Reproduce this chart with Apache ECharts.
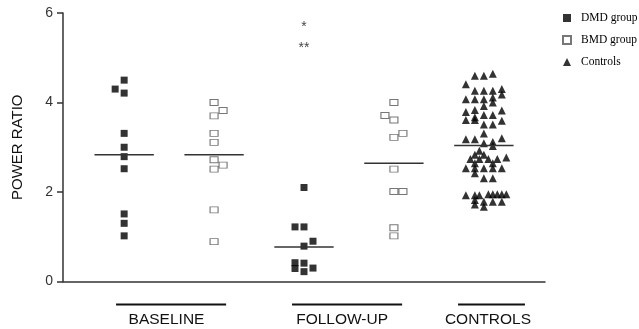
<!DOCTYPE html>
<html><head><meta charset="utf-8">
<script src="https://cdn.jsdelivr.net/npm/echarts@6/dist/echarts.min.js"></script>
<style>html,body{margin:0;padding:0;background:#fff}#c{width:639px;height:329px}</style>
</head><body><div id="c"></div>
<script>
// Column positions (DMD baseline, BMD baseline, DMD follow-up, BMD follow-up, Controls)
const columnPositions = [1, 2, 3, 4, 5];

const dmdBaselineValues = [4.50, 4.30, 4.21, 3.31, 3.00, 2.79, 2.52, 1.51, 1.30, 1.02];
const dmdBaselineJitter = [0, -0.1, 0, 0, 0, 0, 0, 0, 0, 0];

const bmdBaselineValues = [4.00, 3.82, 3.70, 3.31, 3.11, 2.72, 2.60, 2.51, 1.60, 0.89];
const bmdBaselineJitter = [0, 0.1, 0, 0, 0, 0, 0.1, 0, 0, 0];

const dmdFollowupValues = [2.10, 1.22, 1.22, 0.90, 0.79, 0.42, 0.29, 0.41, 0.22, 0.30];
const dmdFollowupJitter = [0, -0.1, 0, 0.1, 0, -0.1, -0.1, 0, 0, 0.1];

const bmdFollowupValues = [4.00, 3.71, 3.61, 3.31, 3.22, 2.51, 2.01, 2.01, 1.20, 1.02];
const bmdFollowupJitter = [0, -0.1, 0, 0.1, 0, 0, 0, 0.1, 0, 0];

const controlsValues = [
  4.64, 4.60, 4.60, 4.41, 4.26, 4.26, 4.26, 4.30, 4.18,
  4.07, 4.07, 4.07, 4.11, 4.00, 3.92, 3.79, 3.83, 3.72, 3.72, 3.82,
  3.61, 3.61, 3.67, 3.51, 3.51, 3.59, 3.18, 3.18, 3.31, 3.20, 3.12, 3.03, 3.09,
  2.92, 2.83, 2.83, 2.74, 2.74, 2.74, 2.74, 2.77, 2.64, 2.64,
  2.53, 2.53, 2.53, 2.53, 2.53, 2.42, 2.31, 2.31,
  1.93, 1.93, 1.93, 1.95, 1.95, 1.95, 1.95, 1.95, 1.82, 1.72, 1.78, 1.78, 1.78, 1.67
];
const controlsJitter = [
  0.1, -0.1, 0, -0.2, -0.1, 0, 0.1, 0.2, 0.2,
  -0.2, -0.1, 0, 0.1, 0.1, 0, -0.2, -0.1, 0, 0.1, 0.2,
  -0.2, -0.1, -0.1, 0, 0.1, 0.2, -0.2, -0.1, 0, 0.2, 0.1, 0.1, 0,
  -0.05, -0.1, 0, -0.15, -0.05, 0.05, 0.15, 0.25, -0.1, 0.1,
  -0.2, -0.1, 0, 0.1, 0.2, -0.1, 0, 0.1,
  -0.2, -0.1, -0.05, 0.05, 0.1, 0.15, 0.2, 0.25, -0.1, -0.1, 0, 0.1, 0.2, 0
];

// Mean lines per column
const meanValues = [2.83, 2.83, 0.77, 2.64, 3.04];

// Significance annotations above DMD follow-up
const starLabels = ['*', '**'];
const starValues = [5.69, 5.21];

// Group labels below the x axis
const groupLabels = ['BASELINE', 'FOLLOW-UP', 'CONTROLS'];
const groupLineCenters = [1.522, 3.479, 5.085];
const groupHalfSpans = [0.612, 0.612, 0.372];
const groupTextCenters = [1.471, 3.424, 5.046];

const yTicks = [0, 2, 4, 6];

function pts(col, vals, jit) {
  return vals.map((v, i) => [columnPositions[col] + jit[i], v]);
}

const chart = echarts.init(document.getElementById('c'), null, {renderer: 'canvas'});

const dmdStyle = {symbol: 'rect', symbolSize: 7, itemStyle: {color: '#000'}};
const bmdStyle = {symbol: 'rect', symbolSize: [8, 6], itemStyle: {color: '#fff', borderColor: '#555', borderWidth: 1}};

chart.setOption({
  animation: false,
  backgroundColor: '#fff',
  grid: {left: 63, right: 94, top: 13, bottom: 47.5, containLabel: false, outerBoundsMode: 'none'},
  legend: {
    orient: 'vertical', left: 557, top: 7, itemGap: 10,
    itemWidth: 8, itemHeight: 8,
    data: ['DMD group', 'BMD group', 'Controls'],
    textStyle: {fontFamily: 'Liberation Serif', fontSize: 11.5, color: '#000', padding: [0, 0, 0, 5]}
  },
  xAxis: {
    type: 'value', min: 0.32, max: 5.68,
    axisLine: {show: true, onZero: false, lineStyle: {color: '#333', width: 1.5}},
    axisTick: {show: false}, axisLabel: {show: false}, splitLine: {show: false}
  },
  yAxis: {
    type: 'value', min: yTicks[0], max: yTicks[yTicks.length - 1], interval: 2,
    name: 'POWER RATIO', nameLocation: 'middle', nameGap: 38,
    nameTextStyle: {fontFamily: 'Liberation Sans', fontSize: 15, color: '#111'},
    axisLine: {show: true, lineStyle: {color: '#333', width: 1.5}},
    axisTick: {show: true, length: 6, lineStyle: {color: '#333', width: 1.5}},
    axisLabel: {fontFamily: 'Liberation Sans', fontSize: 14, color: '#333', margin: 10},
    splitLine: {show: false}
  },
  series: [
    Object.assign({type: 'scatter', name: 'DMD group', data: pts(0, dmdBaselineValues, dmdBaselineJitter).concat(pts(2, dmdFollowupValues, dmdFollowupJitter)), z: 3}, dmdStyle),
    Object.assign({type: 'scatter', name: 'BMD group', data: pts(1, bmdBaselineValues, bmdBaselineJitter).concat(pts(3, bmdFollowupValues, bmdFollowupJitter)), z: 3}, bmdStyle),
    {type: 'scatter', name: 'Controls', symbol: 'triangle', symbolSize: 8, itemStyle: {color: '#000'},
     data: pts(4, controlsValues, controlsJitter), z: 3},
    {type: 'custom', name: 'means', z: 4, silent: true,
     data: meanValues.map((m, i) => [columnPositions[i], m]),
     renderItem: function (params, api) {
       const a = api.coord([api.value(0) - 0.33, api.value(1)]);
       const b = api.coord([api.value(0) + 0.33, api.value(1)]);
       return {type: 'line', shape: {x1: a[0], y1: a[1], x2: b[0], y2: b[1]}, style: {stroke: '#333', lineWidth: 1.5}};
     }},
    {type: 'scatter', name: 'stars', symbolSize: 1, itemStyle: {color: 'rgba(0,0,0,0)'}, silent: true,
     data: starValues.map((v, i) => ({value: [columnPositions[2], v], label: {formatter: starLabels[i]}})),
     label: {show: true, position: 'inside', fontFamily: 'Liberation Sans', fontSize: 14, color: '#111'}},
    {type: 'custom', name: 'groups', silent: true, clip: false,
     data: groupLineCenters.map((c, i) => [c, groupHalfSpans[i], groupTextCenters[i], i]),
     renderItem: function (params, api) {
       const c = api.value(0), h = api.value(1), tc = api.value(2), idx = api.value(3);
       const l = api.coord([c - h, 0]);
       const r = api.coord([c + h, 0]);
       const m = api.coord([tc, 0]);
       return {type: 'group', children: [
         {type: 'line', shape: {x1: l[0], y1: l[1] + 23, x2: r[0], y2: r[1] + 23}, style: {stroke: '#111', lineWidth: 2}},
         {type: 'text', x: m[0], y: m[1] + 38, style: {text: groupLabels[idx], fill: '#111', font: '15.5px "Liberation Sans"', align: 'center', verticalAlign: 'middle'}}
       ]};
     }}
  ]
});
</script></body></html>
